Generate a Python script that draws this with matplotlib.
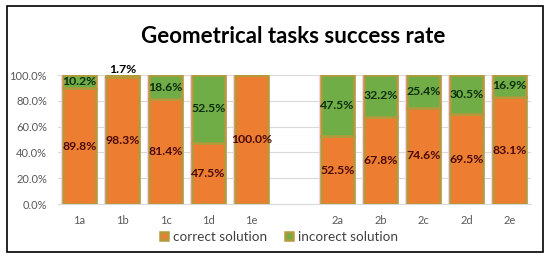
import matplotlib
matplotlib.use('Agg')
import matplotlib.pyplot as plt
from matplotlib.patches import Rectangle
from matplotlib.ticker import PercentFormatter
import numpy as np

plt.rcParams['font.family'] = ['Lato', 'DejaVu Sans']

tasks = ['1a', '1b', '1c', '1d', '1e', '2a', '2b', '2c', '2d', '2e']
correct = [89.8, 98.3, 81.4, 47.5, 100.0, 52.5, 67.8, 74.6, 69.5, 83.1]
incorrect = [10.2, 1.7, 18.6, 52.5, 0.0, 47.5, 32.2, 25.4, 30.5, 16.9]

orange = '#ED7D31'
green = '#70AD47'
edge = '#B39A3C'
glow = '#F8D0E8'

# leave an empty slot between the two groups
pos = np.array([0, 1, 2, 3, 4, 6, 7, 8, 9, 10])

fig = plt.figure(figsize=(5.5, 2.63), dpi=100)
ax = fig.add_axes([0.1055, 0.2243, 0.86, 0.4905])

w = 0.75
# pink glow under the bars
ax.bar(pos, correct, w, color='none', edgecolor=glow, linewidth=3, zorder=2)
ax.bar(pos, incorrect, w, bottom=correct, color='none', edgecolor=glow, linewidth=3, zorder=2)
ax.bar(pos, correct, w, color=orange, edgecolor=edge, linewidth=1.8, zorder=3,
       label='correct solution')
ax.bar(pos, incorrect, w, bottom=correct, color=green, edgecolor=edge, linewidth=1.8,
       zorder=3, label='incorect solution')

for x, c, i in zip(pos, correct, incorrect):
    ax.text(x, c / 2, f'{c:.1f}%', ha='center', va='center', fontsize=8.8,
            fontweight='bold', color='#4A0A0A', zorder=5)
    if i == 0:
        continue
    if i < 5:
        ax.text(x, 104, f'{i:.1f}%', ha='center', va='center', fontsize=8.8,
                fontweight='bold', color='black', zorder=5, clip_on=False)
    else:
        ax.text(x, c + i / 2, f'{i:.1f}%', ha='center', va='center', fontsize=8.8,
                fontweight='bold', color='#0E2E0E', zorder=5)

ax.set_xlim(-0.5, 10.5)
ax.set_ylim(0, 100)
ax.set_yticks(np.arange(0, 101, 20))
ax.yaxis.set_major_formatter(PercentFormatter(decimals=1))
ax.set_xticks(pos)
ax.set_xticklabels(tasks)
ax.tick_params(axis='both', length=0, labelsize=8, colors='#595959')
ax.tick_params(axis='y', pad=8)
ax.tick_params(axis='x', pad=8)
ax.grid(axis='y', color='#D9D9D9', linewidth=0.8, zorder=0)
for s in ['top', 'right', 'left']:
    ax.spines[s].set_visible(False)
ax.spines['bottom'].set_color('#D9D9D9')

fig.text(0.533, 0.86, 'Geometrical tasks success rate', ha='center', va='center',
         fontsize=16, fontweight='bold', color='black')

fig.legend(loc='center', bbox_to_anchor=(0.507, 0.099), ncol=2, frameon=False,
           fontsize=9.7, handlelength=0.6, handleheight=0.6, handletextpad=0.4,
           columnspacing=1.3, labelcolor='#404040')

fig.patches.append(Rectangle((0.0127, 0.042), 0.9743, 0.935, transform=fig.transFigure,
                             fill=False, edgecolor='black', linewidth=1.2))

fig.savefig('out.png', dpi=100)
